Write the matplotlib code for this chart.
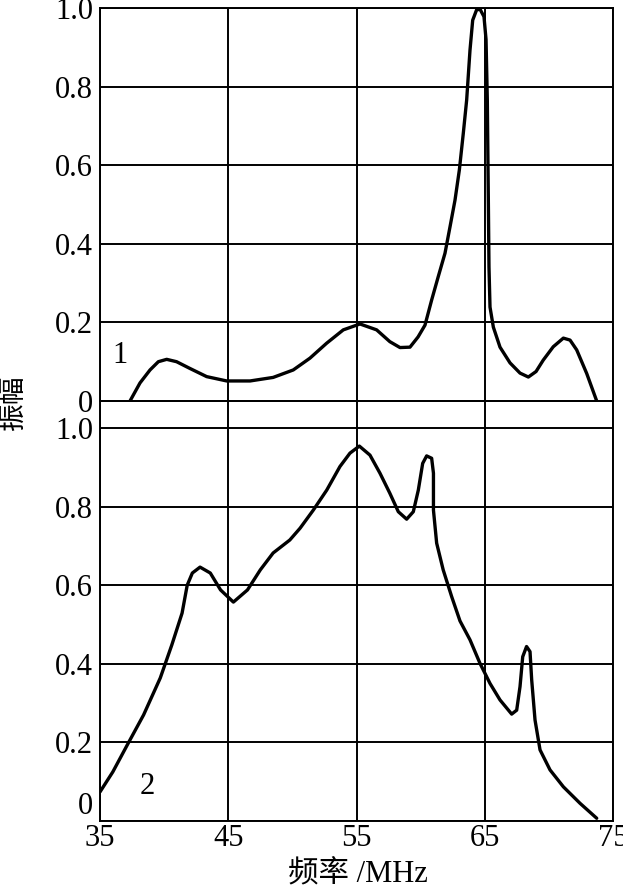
import numpy as np
import matplotlib
matplotlib.use("Agg")
import matplotlib.pyplot as plt

# curve 1 (upper panel)
freq_1 = [37.34, 38.12, 38.9, 39.55, 40.2, 40.97, 42.0, 43.32, 44.88, 46.7, 48.5, 50.07,
          51.37, 52.67, 53.97, 55.27, 56.57, 57.6, 58.39, 59.17, 59.8, 60.34, 60.86, 61.37,
          61.9, 62.29, 62.68, 63.02, 63.33, 63.59, 63.85, 64.06, 64.36, 64.63, 64.94, 65.1,
          65.2, 65.28, 65.33, 65.41, 65.67, 66.19, 66.97, 67.75, 68.4, 69.0, 69.56, 70.34,
          71.13, 71.65, 72.17, 72.95, 73.73]
amp_1 = [0.0, 0.046, 0.079, 0.1, 0.106, 0.1, 0.083, 0.062, 0.051, 0.051, 0.06, 0.079,
         0.109, 0.147, 0.181, 0.196, 0.181, 0.151, 0.136, 0.137, 0.163, 0.193, 0.257, 0.316,
         0.376, 0.443, 0.511, 0.588, 0.682, 0.766, 0.893, 0.969, 0.995, 0.997, 0.978, 0.92,
         0.766, 0.511, 0.341, 0.239, 0.188, 0.137, 0.097, 0.071, 0.061, 0.075, 0.104, 0.138,
         0.16, 0.155, 0.13, 0.07, 0.0]

# curve 2 (lower panel)
freq_2 = [35.0, 36.0, 37.2, 38.4, 39.7, 40.6, 41.4, 41.8, 42.2, 42.8, 43.6, 44.4, 45.4,
          46.5, 47.5, 48.5, 49.8, 50.6, 51.63, 52.68, 53.71, 54.49, 55.22, 56.05, 56.83,
          57.6, 58.26, 58.91, 59.43, 59.82, 60.16, 60.47, 60.86, 61.0, 61.0, 61.25, 61.76,
          62.42, 63.07, 63.85, 64.63, 65.41, 66.19, 67.1, 67.49, 67.75, 67.96, 68.26, 68.53,
          68.66, 68.92, 69.31, 70.09, 71.13, 72.43, 73.73]
amp_2 = [0.074, 0.125, 0.198, 0.27, 0.364, 0.448, 0.529, 0.60, 0.631, 0.646, 0.631, 0.588,
         0.557, 0.588, 0.639, 0.682, 0.715, 0.745, 0.791, 0.842, 0.902, 0.936, 0.954, 0.931,
         0.885, 0.834, 0.787, 0.768, 0.787, 0.842, 0.91, 0.929, 0.923, 0.885, 0.791, 0.707,
         0.639, 0.571, 0.509, 0.461, 0.401, 0.35, 0.308, 0.272, 0.282, 0.342, 0.418, 0.444,
         0.431, 0.359, 0.257, 0.181, 0.13, 0.087, 0.045, 0.007]

x_ticks = [35, 45, 55, 65, 75]
y_ticks = [0, 0.2, 0.4, 0.6, 0.8, 1.0]
y_tick_labels = ["0", "0.2", "0.4", "0.6", "0.8", "1.0"]

serif = ["Liberation Serif", "Noto Sans CJK SC"]
plt.rcParams["font.family"] = serif

fig = plt.figure(figsize=(6.23, 8.91), dpi=100)
W, H = 623, 891
left, right = 100, 613
ax_bot = fig.add_axes([left / W, 1 - 821 / H, (right - left) / W, (821 - 401) / H])
ax_top = fig.add_axes([left / W, 1 - 401 / H, (right - left) / W, (401 - 8) / H])

gap = 27 / 393.0

for ax in (ax_top, ax_bot):
    ax.set_xlim(35, 75)
    ax.set_xticks(x_ticks)
    ax.grid(True, color="black", linewidth=1.4)
    ax.set_axisbelow(True)
    ax.tick_params(axis="y", length=0, labelsize=22, pad=5)
    ax.tick_params(axis="x", length=0, labelsize=22, pad=2)
    for sp in ax.spines.values():
        sp.set_linewidth(1.4)
    ax.set_yticks(y_ticks)
    ax.set_yticklabels(y_tick_labels)

ax_top.set_ylim(0, 1.0)
ax_top.tick_params(labelbottom=False)
ax_top.patch.set_alpha(0)
ax_bot.set_ylim(0, 1.0 + gap)

# lowest "0" sits on the axis line, above the "35"
ax_bot.get_yticklabels()[0].set_verticalalignment("bottom")

ax_top.plot(freq_1, amp_1, color="black", linewidth=2.4, solid_joinstyle="round",
            solid_capstyle="round")
ax_bot.plot(freq_2, amp_2, color="black", linewidth=2.4, solid_joinstyle="round",
            solid_capstyle="round")

ax_top.text(36.56, 0.117, "1", fontsize=22, ha="center", va="center")
ax_bot.text(38.66, 0.087, "2", fontsize=22, ha="center", va="center")

fig.text(358 / W, 1 - 875 / H, "频率 /MHz", fontsize=22, ha="center", va="center",
         family=serif)
fig.text(14 / W, 1 - 402 / H, "振幅", fontsize=20, ha="center", va="center",
         rotation=90, family=serif)

fig.savefig("out.png", dpi=100)
